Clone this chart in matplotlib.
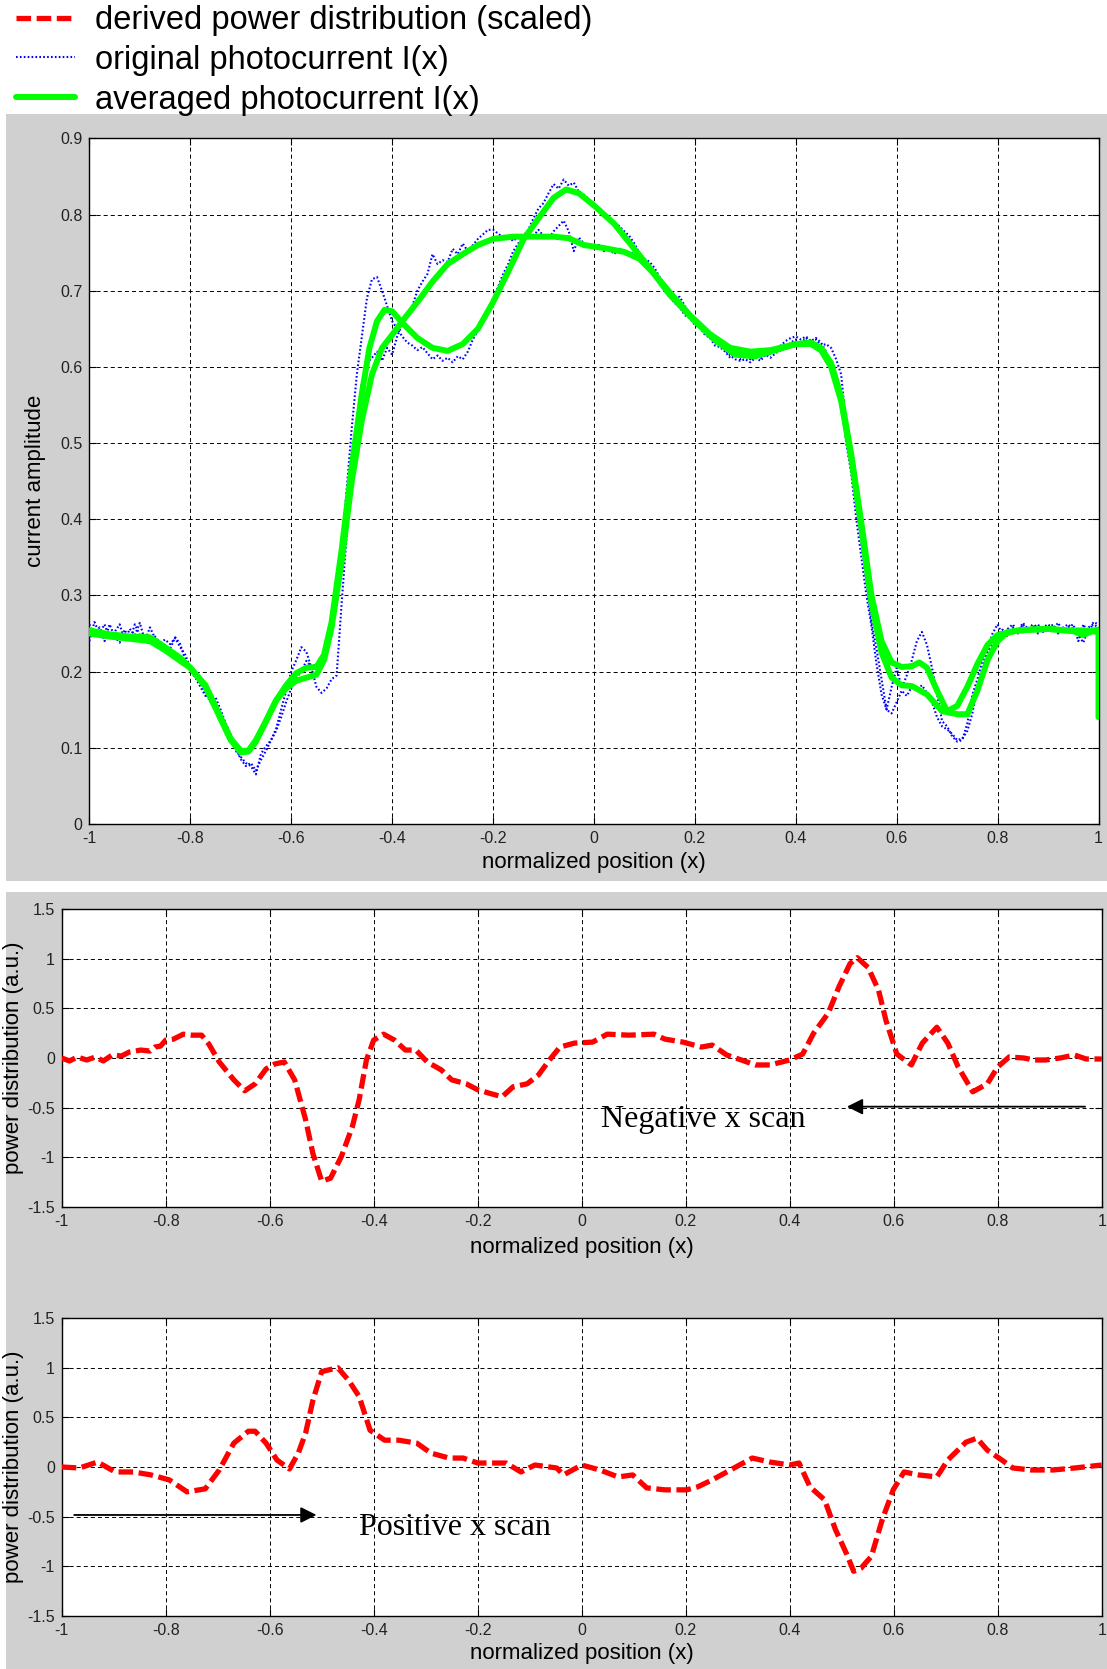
import numpy as np
import matplotlib
matplotlib.use("Agg")
import matplotlib.pyplot as plt
from matplotlib.patches import Rectangle
from matplotlib.lines import Line2D

plt.rcParams['font.family'] = ['Liberation Sans', 'DejaVu Sans']
plt.rcParams['axes.unicode_minus'] = False
plt.rcParams['lines.scale_dashes'] = False

# ---------------- data ----------------
# averaged photocurrent, two scans (top panel)
g1_x = [-1.00, -0.96, -0.92, -0.88, -0.85, -0.82, -0.80, -0.77, -0.74, -0.72, -0.70, -0.685, -0.67,
        -0.65, -0.63, -0.61, -0.59, -0.57, -0.55, -0.535, -0.52, -0.50, -0.48, -0.46, -0.445, -0.43,
        -0.415, -0.40, -0.38, -0.35, -0.32, -0.29, -0.26, -0.23, -0.20, -0.17, -0.14, -0.11, -0.08,
        -0.055, -0.03, 0.00, 0.04, 0.08, 0.11, 0.15, 0.20, 0.24, 0.28, 0.32, 0.36, 0.40, 0.43, 0.45,
        0.47, 0.49, 0.51, 0.53, 0.55, 0.57, 0.59, 0.61, 0.63, 0.66, 0.69, 0.72, 0.74, 0.76, 0.78,
        0.80, 0.82, 0.86, 0.90, 0.94, 0.97, 1.00]
g1_y = [0.254, 0.249, 0.246, 0.245, 0.232, 0.218, 0.205, 0.182, 0.140, 0.112, 0.096, 0.096, 0.110,
        0.135, 0.162, 0.182, 0.198, 0.205, 0.206, 0.222, 0.265, 0.360, 0.470, 0.565, 0.625, 0.660,
        0.675, 0.673, 0.658, 0.638, 0.625, 0.621, 0.630, 0.650, 0.685, 0.725, 0.767, 0.795, 0.822,
        0.833, 0.828, 0.812, 0.788, 0.755, 0.730, 0.695, 0.660, 0.635, 0.616, 0.614, 0.622, 0.630,
        0.630, 0.622, 0.600, 0.555, 0.480, 0.390, 0.290, 0.225, 0.192, 0.182, 0.181, 0.170, 0.148,
        0.144, 0.144, 0.175, 0.215, 0.240, 0.252, 0.255, 0.256, 0.254, 0.254, 0.252]

g2_x = [-1.00, -0.96, -0.92, -0.88, -0.85, -0.82, -0.80, -0.77, -0.74, -0.72, -0.70, -0.685, -0.67,
        -0.65, -0.63, -0.61, -0.59, -0.57, -0.55, -0.535, -0.52, -0.50, -0.48, -0.46, -0.44, -0.42,
        -0.40, -0.38, -0.35, -0.32, -0.29, -0.26, -0.23, -0.20, -0.16, -0.12, -0.08, -0.05, -0.02,
        0.02, 0.06, 0.09, 0.12, 0.15, 0.19, 0.23, 0.27, 0.31, 0.35, 0.40, 0.43, 0.45, 0.47, 0.49,
        0.51, 0.53, 0.55, 0.57, 0.59, 0.61, 0.63, 0.645, 0.66, 0.68, 0.70, 0.72, 0.74, 0.76, 0.78,
        0.80, 0.84, 0.90, 0.95, 0.97, 0.99, 1.00, 1.00]
g2_y = [0.250, 0.246, 0.243, 0.240, 0.228, 0.214, 0.205, 0.180, 0.138, 0.110, 0.094, 0.095, 0.108,
        0.135, 0.162, 0.178, 0.188, 0.192, 0.196, 0.215, 0.258, 0.345, 0.450, 0.530, 0.590, 0.625,
        0.642, 0.660, 0.685, 0.712, 0.735, 0.748, 0.760, 0.768, 0.771, 0.771, 0.771, 0.769, 0.760,
        0.756, 0.751, 0.742, 0.722, 0.698, 0.668, 0.643, 0.625, 0.620, 0.622, 0.630, 0.632, 0.625,
        0.605, 0.560, 0.485, 0.395, 0.300, 0.240, 0.212, 0.206, 0.207, 0.212, 0.205, 0.175, 0.148,
        0.155, 0.180, 0.210, 0.235, 0.248, 0.254, 0.256, 0.253, 0.248, 0.254, 0.255, 0.140]

# original photocurrent, sampled every 0.01 from -1 to 1
b_x = np.round(np.arange(-1.0, 1.0001, 0.01), 2)
b1_y = [0.262, 0.248, 0.258, 0.240, 0.262, 0.246, 0.238, 0.255, 0.240, 0.262,
        0.248, 0.240, 0.258, 0.244, 0.238, 0.242, 0.236, 0.244, 0.232, 0.222,
        0.205, 0.196, 0.185, 0.172, 0.160, 0.166, 0.150, 0.132, 0.118, 0.100,
        0.085, 0.076, 0.080, 0.070, 0.084, 0.096, 0.110, 0.122, 0.140, 0.160,
        0.178, 0.192, 0.200, 0.214, 0.206, 0.210, 0.214, 0.226, 0.248, 0.290,
        0.360, 0.440, 0.520, 0.590, 0.640, 0.690, 0.715, 0.718, 0.700, 0.680,
        0.660, 0.650, 0.640, 0.632, 0.628, 0.622, 0.626, 0.618, 0.610, 0.615,
        0.608, 0.612, 0.606, 0.614, 0.610, 0.620, 0.636, 0.648, 0.660, 0.672,
        0.690, 0.705, 0.722, 0.735, 0.752, 0.762, 0.772, 0.780, 0.795, 0.808,
        0.815, 0.828, 0.840, 0.834, 0.846, 0.838, 0.842, 0.830, 0.826, 0.820,
        0.815, 0.808, 0.800, 0.796, 0.790, 0.785, 0.778, 0.772, 0.762, 0.750,
        0.742, 0.738, 0.730, 0.718, 0.708, 0.700, 0.690, 0.692, 0.680, 0.670,
        0.662, 0.655, 0.648, 0.640, 0.636, 0.630, 0.622, 0.615, 0.610, 0.608,
        0.610, 0.606, 0.612, 0.608, 0.616, 0.612, 0.618, 0.622, 0.626, 0.632,
        0.636, 0.630, 0.638, 0.632, 0.636, 0.628, 0.630, 0.625, 0.610, 0.590,
        0.520, 0.480, 0.420, 0.370, 0.320, 0.265, 0.230, 0.190, 0.150, 0.145,
        0.160, 0.175, 0.168, 0.180, 0.176, 0.182, 0.172, 0.160, 0.140, 0.128,
        0.124, 0.118, 0.110, 0.112, 0.122, 0.145, 0.180, 0.205, 0.225, 0.238,
        0.248, 0.255, 0.246, 0.258, 0.250, 0.262, 0.254, 0.258, 0.262, 0.252,
        0.256, 0.262, 0.250, 0.258, 0.262, 0.255, 0.248, 0.238, 0.258, 0.262, 0.258]
b2_y = [0.240, 0.265, 0.250, 0.262, 0.244, 0.252, 0.262, 0.240, 0.256, 0.248,
        0.264, 0.240, 0.236, 0.246, 0.238, 0.228, 0.230, 0.245, 0.236, 0.215,
        0.200, 0.192, 0.180, 0.168, 0.172, 0.158, 0.142, 0.126, 0.112, 0.096,
        0.088, 0.080, 0.076, 0.065, 0.092, 0.102, 0.110, 0.125, 0.150, 0.175,
        0.200, 0.215, 0.232, 0.226, 0.205, 0.180, 0.172, 0.178, 0.190, 0.195,
        0.290, 0.380, 0.460, 0.530, 0.580, 0.605, 0.612, 0.620, 0.608, 0.625,
        0.616, 0.640, 0.656, 0.665, 0.680, 0.700, 0.712, 0.722, 0.748, 0.735,
        0.740, 0.738, 0.755, 0.748, 0.762, 0.752, 0.760, 0.768, 0.774, 0.780,
        0.780, 0.775, 0.770, 0.772, 0.765, 0.772, 0.768, 0.774, 0.772, 0.780,
        0.772, 0.768, 0.778, 0.785, 0.792, 0.778, 0.752, 0.770, 0.762, 0.760,
        0.756, 0.760, 0.752, 0.756, 0.748, 0.756, 0.750, 0.746, 0.752, 0.745,
        0.738, 0.728, 0.720, 0.712, 0.700, 0.692, 0.684, 0.678, 0.668, 0.664,
        0.655, 0.652, 0.642, 0.638, 0.628, 0.626, 0.620, 0.612, 0.618, 0.610,
        0.614, 0.610, 0.618, 0.612, 0.620, 0.616, 0.625, 0.628, 0.634, 0.638,
        0.640, 0.636, 0.640, 0.634, 0.638, 0.632, 0.620, 0.600, 0.585, 0.560,
        0.500, 0.460, 0.400, 0.350, 0.300, 0.260, 0.210, 0.170, 0.150, 0.180,
        0.205, 0.178, 0.195, 0.215, 0.240, 0.252, 0.235, 0.205, 0.170, 0.135,
        0.128, 0.115, 0.108, 0.110, 0.132, 0.170, 0.190, 0.215, 0.228, 0.250,
        0.262, 0.248, 0.256, 0.262, 0.252, 0.264, 0.256, 0.262, 0.250, 0.258,
        0.262, 0.256, 0.264, 0.252, 0.258, 0.262, 0.240, 0.262, 0.250, 0.265, 0.262]

# derived power distribution, negative x scan
neg_x = [-1.0, -0.985, -0.97, -0.952, -0.935, -0.92, -0.903, -0.885, -0.87, -0.848, -0.83, -0.821,
         -0.81, -0.8, -0.785, -0.766, -0.75, -0.731, -0.717, -0.697, -0.669, -0.648, -0.628, -0.607,
         -0.59, -0.572, -0.552, -0.531, -0.517, -0.5, -0.483, -0.462, -0.441, -0.428, -0.414, -0.4,
         -0.381, -0.36, -0.339, -0.319, -0.297, -0.27, -0.25, -0.222, -0.2, -0.174, -0.153, -0.132,
         -0.105, -0.083, -0.062, -0.042, -0.014, 0.021, 0.049, 0.091, 0.139, 0.16, 0.195, 0.23,
         0.251, 0.279, 0.307, 0.334, 0.362, 0.4, 0.425, 0.446, 0.474, 0.495, 0.516, 0.53, 0.551,
         0.571, 0.585, 0.606, 0.634, 0.655, 0.683, 0.704, 0.724, 0.752, 0.78, 0.8, 0.822, 0.85,
         0.87, 0.892, 0.92, 0.948, 0.97, 1.0]
neg_y = [0.0, -0.03, 0.01, -0.02, 0.01, -0.03, 0.03, 0.02, 0.06, 0.08, 0.07, 0.11,
         0.12, 0.18, 0.19, 0.24, 0.23, 0.23, 0.14, -0.04, -0.22, -0.33, -0.26, -0.11,
         -0.06, -0.04, -0.22, -0.62, -0.96, -1.24, -1.21, -0.99, -0.69, -0.42, -0.02, 0.18,
         0.24, 0.18, 0.08, 0.08, -0.04, -0.12, -0.22, -0.26, -0.32, -0.36, -0.39, -0.29,
         -0.26, -0.17, -0.02, 0.11, 0.15, 0.16, 0.24, 0.23, 0.24, 0.19, 0.16, 0.11,
         0.13, 0.03, -0.02, -0.07, -0.07, -0.02, 0.04, 0.25, 0.45, 0.72, 0.95, 1.01, 0.91,
         0.68, 0.38, 0.04, -0.07, 0.15, 0.31, 0.15, -0.09, -0.34, -0.26, -0.09, 0.01, 0.0,
         -0.02, -0.02, 0.0, 0.03, -0.01, -0.01]

# derived power distribution, positive x scan
pos_x = [-1.0, -0.966, -0.931, -0.897, -0.862, -0.828, -0.793, -0.759, -0.724, -0.697, -0.669,
         -0.641, -0.628, -0.607, -0.586, -0.562, -0.545, -0.531, -0.517, -0.5, -0.469, -0.448,
         -0.428, -0.407, -0.379, -0.352, -0.317, -0.29, -0.255, -0.228, -0.2, -0.174, -0.145,
         -0.117, -0.09, -0.048, -0.035, 0.0, 0.035, 0.07, 0.098, 0.125, 0.16, 0.202, 0.223, 0.251,
         0.279, 0.328, 0.362, 0.4, 0.418, 0.439, 0.467, 0.488, 0.509, 0.523, 0.537, 0.557, 0.578,
         0.599, 0.62, 0.648, 0.683, 0.704, 0.739, 0.76, 0.78, 0.808, 0.829, 0.864, 0.906, 0.948, 1.0]
pos_y = [0.0, -0.01, 0.05, -0.05, -0.05, -0.08, -0.13, -0.25, -0.22, -0.03, 0.24,
         0.36, 0.36, 0.24, 0.07, -0.02, 0.14, 0.34, 0.67, 0.96, 1.0, 0.87,
         0.71, 0.37, 0.27, 0.27, 0.24, 0.14, 0.09, 0.09, 0.04, 0.04, 0.04,
         -0.05, 0.02, -0.01, -0.08, 0.02, -0.03, -0.1, -0.08, -0.21, -0.23, -0.23, -0.2, -0.13,
         -0.05, 0.09, 0.05, 0.02, 0.04, -0.2, -0.33, -0.63, -0.87, -1.05, -1.02, -0.9, -0.53,
         -0.23, -0.05, -0.08, -0.1, 0.07, 0.25, 0.29, 0.17, 0.07, -0.01, -0.03, -0.03, -0.01, 0.02]

x_ticks = [-1, -0.8, -0.6, -0.4, -0.2, 0, 0.2, 0.4, 0.6, 0.8, 1]
x_labels = ['-1', '-0.8', '-0.6', '-0.4', '-0.2', '0', '0.2', '0.4', '0.6', '0.8', '1']
cur_ticks = [0, 0.1, 0.2, 0.3, 0.4, 0.5, 0.6, 0.7, 0.8, 0.9]
cur_labels = ['0', '0.1', '0.2', '0.3', '0.4', '0.5', '0.6', '0.7', '0.8', '0.9']
pow_ticks = [-1.5, -1, -0.5, 0, 0.5, 1, 1.5]
pow_labels = ['-1.5', '-1', '-0.5', '0', '0.5', '1', '1.5']

legend_labels = ['derived power distribution (scaled)', 'original photocurrent I(x)',
                 'averaged photocurrent I(x)']

# ---------------- figure ----------------
W, H = 1107, 1669
fig = plt.figure(figsize=(W / 100, H / 100), dpi=100)

GRAY = '#d0d0d0'
fig.patches.append(Rectangle((6.4 / W, 1 - 881 / H), 1, (881 - 114) / H,
                             transform=fig.transFigure, facecolor=GRAY, edgecolor='none', zorder=-1))
fig.patches.append(Rectangle((6.4 / W, 0), 1, (H - 892) / H,
                             transform=fig.transFigure, facecolor=GRAY, edgecolor='none', zorder=-1))


def px_axes(x0, y0, x1, y1):
    return fig.add_axes([x0 / W, 1 - y1 / H, (x1 - x0) / W, (y1 - y0) / H])


ax_top = px_axes(89.4, 138.4, 1098.5, 823.9)
ax_neg = px_axes(61.7, 909, 1101.7, 1207)
ax_pos = px_axes(61.7, 1318, 1101.7, 1616)

RED = dict(color='#ff0000', lw=3.8, linestyle=(0, (10.5, 4)))
BLUE = dict(color='#0000ff', lw=1.5, linestyle=(0, (1.2, 1.6)))
GREEN = dict(color='#00ff00', lw=4.3, solid_capstyle='round')

ax_top.plot(b_x, b1_y, **BLUE, zorder=3)
ax_top.plot(b_x, b2_y, **BLUE, zorder=3)
ax_top.plot(g1_x, g1_y, **GREEN, zorder=4)
ax_top.plot(g2_x, g2_y, **GREEN, zorder=4)

ax_neg.plot(neg_x, neg_y, **RED, zorder=4)
ax_pos.plot(pos_x, pos_y, **RED, zorder=4)

for ax in (ax_top, ax_neg, ax_pos):
    ax.set_facecolor('white')
    ax.set_xlim(-1, 1)
    ax.set_xticks(x_ticks)
    ax.set_xticklabels(x_labels)
    ax.grid(True, color='black', linewidth=0.7, linestyle=(0, (2.9, 2.2)))
    ax.tick_params(direction='in', length=5, width=0.8, top=True, right=True,
                   labelsize=11.5, labelcolor='#222222', pad=5)
    for s in ax.spines.values():
        s.set_linewidth(1.0)
    ax.set_xlabel('normalized position (x)', fontsize=16, va='center')

ax_top.set_ylim(0, 0.9)
ax_top.set_yticks(cur_ticks)
ax_top.set_yticklabels(cur_labels)
ax_top.set_ylabel('current amplitude', fontsize=16, va='center')
ax_top.xaxis.set_label_coords(0.5, -0.0556)
ax_top.yaxis.set_label_coords(-0.0539, 0.5)

for ax, ylab in ((ax_neg, -0.136), (ax_pos, -0.125)):
    ax.set_ylim(-1.5, 1.5)
    ax.set_yticks(pow_ticks)
    ax.set_yticklabels(pow_labels)
    ax.set_ylabel('power distribution (a.u.)', fontsize=16, va='center')
    ax.xaxis.set_label_coords(0.5, ylab)
    ax.yaxis.set_label_coords(-0.0459, 0.5)

arrow = dict(arrowstyle='-|>', mutation_scale=24, lw=1.3, color='black', shrinkA=0, shrinkB=0)
ax_neg.annotate('', xy=(0.51, -0.49), xytext=(0.968, -0.49), arrowprops=arrow, zorder=5)
ax_neg.text(0.037, -0.69, 'Negative x scan', family='Liberation Serif', fontsize=23,
            va='baseline', zorder=5)
ax_pos.annotate('', xy=(-0.51, -0.483), xytext=(-0.976, -0.483), arrowprops=arrow, zorder=5)
ax_pos.text(-0.429, -0.683, 'Positive x scan', family='Liberation Serif', fontsize=23,
            va='baseline', zorder=5)

handles = [Line2D([], [], **RED), Line2D([], [], **BLUE), Line2D([], [], **GREEN)]
fig.legend(handles, legend_labels, loc='upper left', bbox_to_anchor=(16 / W, 0.997),
           frameon=False, fontsize=23.5, handlelength=1.8, handletextpad=0.62,
           labelspacing=0.27, borderpad=0, borderaxespad=0)

fig.savefig('out.png', dpi=100)
